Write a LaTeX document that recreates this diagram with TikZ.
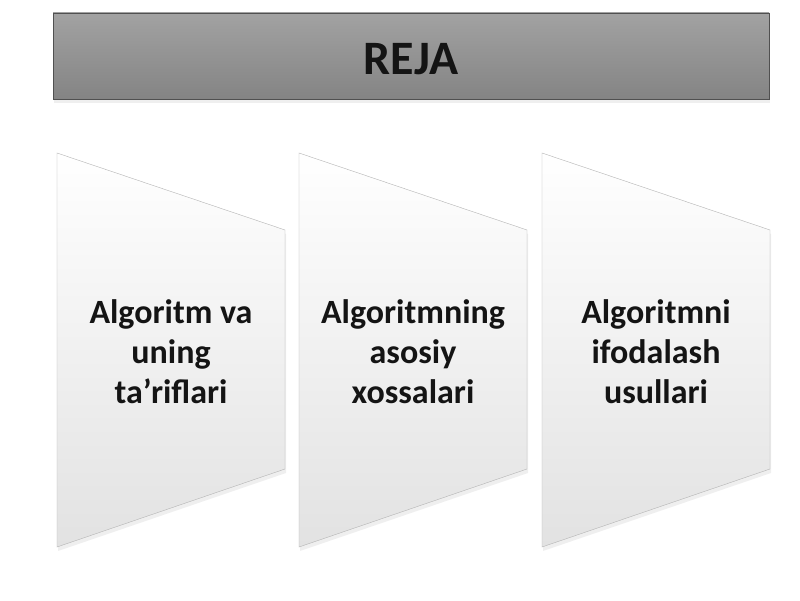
\documentclass[tikz,border=0pt]{standalone}
\usepackage{fontspec}
\setmainfont{Carlito}
\usepackage{xcolor}
\usetikzlibrary{positioning,shadows}

\definecolor{barTop}{RGB}{162,162,162}
\definecolor{barBot}{RGB}{132,132,132}
\definecolor{barEdge}{RGB}{80,80,80}
\definecolor{panelBot}{RGB}{226,226,226}
\definecolor{panelEdge}{RGB}{180,180,180}
\definecolor{ink}{RGB}{20,20,20}

\tikzset{
  bar/.style={draw=barEdge, thin, top color=barTop, bottom color=barBot,
    drop shadow={opacity=.12, shadow xshift=1pt, shadow yshift=-4pt}},
  panel/.style={draw=panelEdge, thin, top color=white, bottom color=panelBot,
    drop shadow={opacity=.12, shadow xshift=1pt, shadow yshift=-4pt}},
  item/.style={align=center, text=ink, font=\bfseries\fontsize{34}{40}\selectfont}
}

\begin{document}
\begin{tikzpicture}[x=1pt, y=1pt]
            \useasboundingbox[fill=white] (0,0) rectangle (800,600);

            \draw[bar] (53,587) rectangle (769,501);
            \node[text=ink, font=\bfseries\fontsize{48}{52}\selectfont] (reja) at (411,541) {REJA};

            \draw[panel] (57,447) -- (285,370) -- (285,131) -- (57,53) -- cycle;
            \draw[panel] (299,447) -- (527,370) -- (527,131) -- (299,53) -- cycle;
            \draw[panel] (542,447) -- (770,370) -- (770,131) -- (542,53) -- cycle;

            \node[item] (tarif) at (171,248) {Algoritm va\\uning\\ta’riflari};
            \node[item] (xossa) at (413,248) {Algoritmning\\asosiy\\xossalari};
            \node[item] (usul) at (656,248) {Algoritmni\\ifodalash\\usullari};
        \end{tikzpicture}
\end{document}
